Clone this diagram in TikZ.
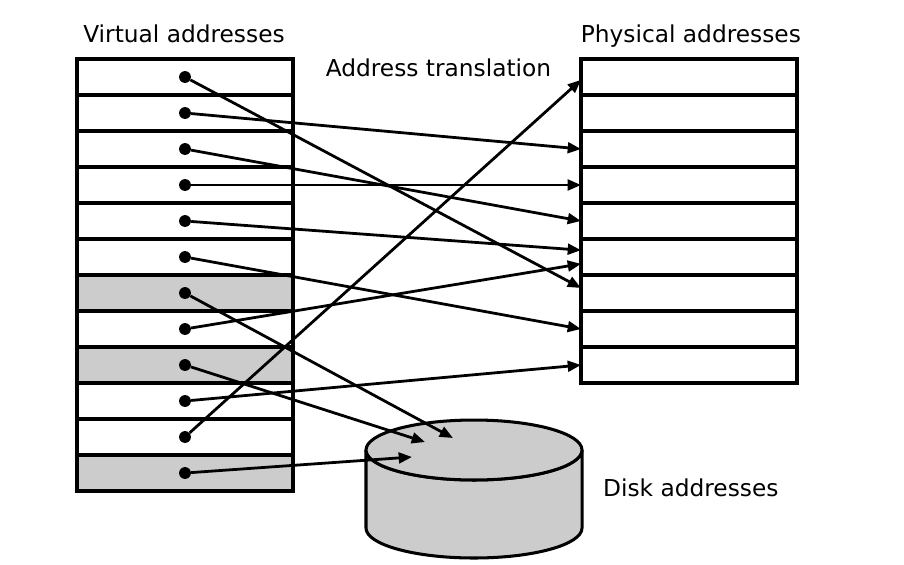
\documentclass[tikz,border=0pt]{standalone}
\usepackage{fontspec}
\setmainfont{DejaVu Sans}
\usetikzlibrary{arrows.meta}
\definecolor{diskgray}{RGB}{204,204,204}
\tikzset{
  cell/.style={draw,line width=2.4pt,minimum width=6cm,minimum height=1cm,inner sep=0pt,outer sep=0pt},
  pointer/.style={circle,fill,inner sep=0pt,minimum size=0.33cm},
  map/.style={line width=2.2pt,-{Triangle[length=10.5pt,width=8.5pt]}},
  title/.style={anchor=base,inner sep=0pt,font=\fontsize{18.4}{22}\selectfont}
}

\begin{document}
\begin{tikzpicture}
\useasboundingbox (0,0) rectangle (25.111,-15.694);
\foreach \i/\f in {1/white,2/white,3/white,4/white,5/white,6/white,7/diskgray,8/white,9/diskgray,10/white,11/white,12/diskgray}
\node[cell,fill=\f] (v\i) at (5.139,-1.139-\i) {};
\foreach \j in {1,...,9}
\node[cell] (p\j) at (19.139,-1.139-\j) {};
\filldraw[fill=diskgray,line width=2.4pt] (10.167,-12.5) -- (10.167,-14.667)
  arc[start angle=180,end angle=360,x radius=3,y radius=0.833] -- (16.167,-12.5)
  arc[start angle=0,end angle=-180,x radius=3,y radius=0.833] -- cycle;
\filldraw[fill=diskgray,line width=2.4pt] (13.167,-12.5) ellipse[x radius=3,y radius=0.833];
\coordinate (k1) at (12.583,-12.167);
\coordinate (k2) at (11.806,-12.278);
\coordinate (k3) at (11.444,-12.694);
\node[title] (vtitle) at (5.111,-1.167) {Virtual addresses};
\node[title] (ptitle) at (19.19,-1.167) {Physical addresses};
\node[title] (atitle) at (12.18,-2.13) {Address translation};
\node[title] (dtitle) at (19.19,-13.8) {Disk addresses};
\foreach \i in {1,...,12}
\node[pointer] (d\i) at (v\i) {};
\foreach \s/\t in {2/3,3/5,4/4,6/8,10/9}
\draw[map] (d\s) -- (p\t.west);
\draw[map] (d1) -- ([yshift=0.14cm]p7.west);
\draw[map] (d5) -- ([yshift=0.19cm]p6.west);
\draw[map] (d8) -- ([yshift=-0.19cm]p6.west);
\draw[map] (d11) -- ([yshift=-0.08cm]p1.west);
\draw[map] (d7) -- (k1);
\draw[map] (d9) -- (k2);
\draw[map] (d12) -- (k3);
\end{tikzpicture}
\end{document}
